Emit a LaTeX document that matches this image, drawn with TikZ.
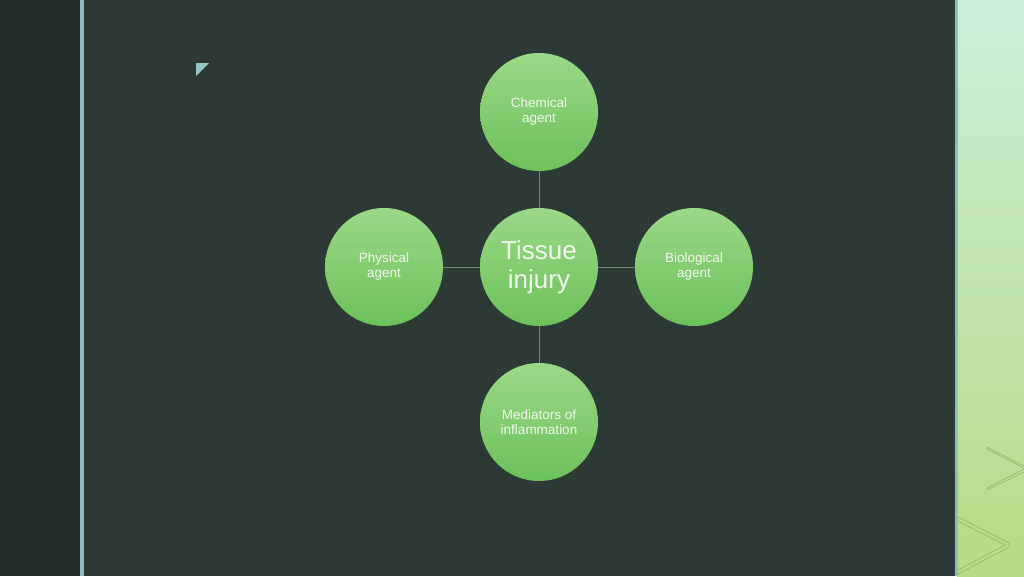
\documentclass[tikz,border=0pt]{standalone}
\usepackage{fontspec}
\setmainfont{Liberation Sans}
\definecolor{bg}{HTML}{2C3934}
\definecolor{leftbg}{HTML}{222C29}
\definecolor{rule}{HTML}{8CBEC0}
\definecolor{circtop}{HTML}{9BD887}
\definecolor{circbot}{HTML}{6CC15A}
\definecolor{conn}{HTML}{6E8C6E}
\definecolor{txt}{HTML}{F2F9EE}
\definecolor{striptop}{HTML}{CDEEDA}
\definecolor{stripbot}{HTML}{B6DC84}
\definecolor{chev}{HTML}{8AAE5E}
\begin{document}
\begin{tikzpicture}[x=1pt,y=-1pt,
  bubble/.style={circle,minimum size=118pt,inner sep=0pt,top color=circtop,bottom color=circbot,
     text=txt,align=center,font=\fontsize{13.5}{15}\selectfont},
  hub/.style={bubble,font=\fontsize{26}{29}\selectfont},
  link/.style={draw=conn,line width=0.9pt}]
\useasboundingbox (0,0) rectangle (1024,576);
\fill[bg] (0,0) rectangle (1024,576);
\fill[leftbg] (0,0) rectangle (80,576);
\fill[rule] (80,0) rectangle (84,576);
\shade[top color=striptop,bottom color=stripbot] (957,0) rectangle (1024,576);
\fill[rule] (955,0) rectangle (958,576);
% chevrons
\draw[chev,line width=0.5pt] (987,447) -- (1024,466) (1024,472) -- (987,490) -- (987,488) -- (1024,469);
\draw[chev,line width=0.5pt] (987,447) -- (987,449) -- (1024,468);
\draw[chev,line width=0.5pt] (958,517) -- (1009,543) -- (1009,547) -- (958,574);
\draw[chev,line width=0.5pt] (958,521) -- (1005,545) -- (958,570);
% small triangle
\fill[rule!90!white] (196,63) -- (209,63) -- (196,76) -- cycle;
% nodes
\node[hub] (c) at (539,267) {Tissue\\injury};
\node[bubble] (t) at (539,112) {Chemical\\agent};
\node[bubble] (l) at (384,267) {Physical\\agent};
\node[bubble] (r) at (694,267) {Biological\\agent};
\node[bubble] (b) at (539,422) {Mediators of\\inflammation};
\draw[link] (c) -- (t);
\draw[link] (c) -- (l);
\draw[link] (c) -- (r);
\draw[link] (c) -- (b);
\end{tikzpicture}
\end{document}
